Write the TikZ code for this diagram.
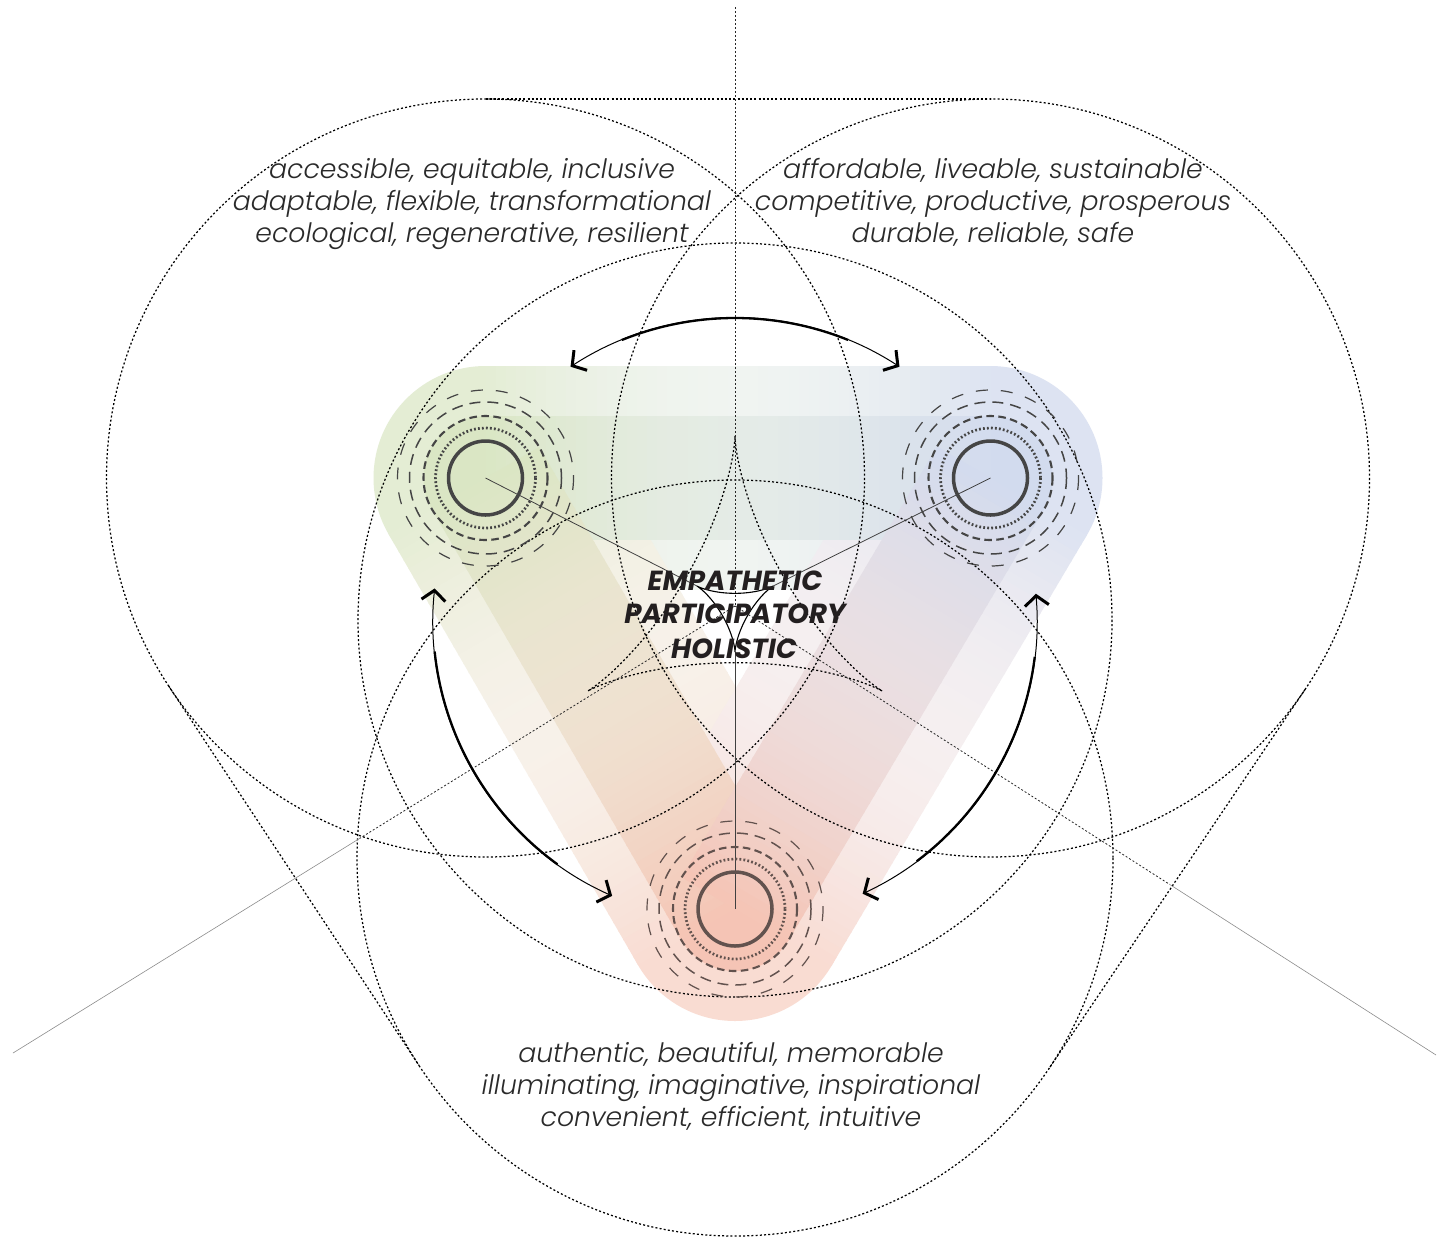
\documentclass[tikz,border=0pt]{standalone}
\usepackage{fontspec}
\setmainfont{Poppins}
\newfontfamily\lightfont{Poppins}[UprightFont=* Light, ItalicFont=* Light Italic, BoldFont=* Bold, BoldItalicFont=* Bold Italic]
\usetikzlibrary{calc,arrows.meta}
\definecolor{gA}{HTML}{D5E3BC}
\definecolor{bA}{HTML}{CCD6EC}
\definecolor{rA}{HTML}{F4BFAE}
\definecolor{ink}{HTML}{2A2A2A}
\definecolor{inkb}{HTML}{231F20}
\definecolor{ringc}{HTML}{454545}
\definecolor{ringb}{HTML}{62524E}
\newcommand\bandslices[8]{%
  \coordinate (bAp) at ($(#1)!#7!90:(#2)$);
  \coordinate (bAm) at ($(#1)!#7!-90:(#2)$);
  \coordinate (bBp) at ($(#2)!#7!-90:(#1)$);
  \coordinate (bBm) at ($(#2)!#7!90:(#1)$);
  \foreach \i in {0,...,49}{%
    \pgfmathsetmacro\fa{\i/50}%
    \pgfmathsetmacro\fb{min(1,(\i+1.15)/50)}%
    \pgfmathsetmacro\fm{(\i+0.5)/50}%
    \pgfmathsetmacro\mixp{100*(1-\fm)}%
    \pgfmathsetmacro\tint{100*((1-\fm)*#5+\fm*#6)*(1-#8*sin(180*\fm))}%
    \colorlet{tmpc}{#3!\mixp!#4}%
    \fill[tmpc!\tint!white] ($(bAp)!\fa!(bBp)$) -- ($(bAp)!\fb!(bBp)$) -- ($(bAm)!\fb!(bBm)$) -- ($(bAm)!\fa!(bBm)$) -- cycle;
  }%
}
\begin{document}
\begin{tikzpicture}[x=0.5pt,y=-0.5pt,
  dotc/.style={draw=black, line width=0.62pt, dash pattern=on 1pt off 1.1pt},
  vline/.style={draw=black!85, line width=0.4pt, dash pattern=on 1pt off 1pt},
  fadel/.style={draw=black!45, line width=0.3pt},
  thinl/.style={draw=black!75, line width=0.4pt},
  ringA/.style={draw=#1, line width=0.6pt, dash pattern=on 6pt off 6.5pt},
  ringB/.style={draw=#1, line width=0.75pt, dash pattern=on 5.5pt off 3.5pt},
  ringC/.style={draw=#1, line width=1.05pt, dash pattern=on 3.8pt off 2.2pt},
  ringD/.style={draw=#1, line width=1.35pt, dash pattern=on 0.9pt off 1.1pt},
  ringE/.style={draw=#1, line width=1.75pt},
  arrthin/.style={draw=black, line width=0.5pt, {Straight Barb[length=5pt,width=12pt,line width=1.5pt]}-{Straight Barb[length=5pt,width=12pt,line width=1.5pt]}},
  arrthick/.style={draw=black, line width=1.15pt},
  lt/.style={font=\lightfont\itshape\fontsize{13.35}{16}\selectfont, text=ink, anchor=base, inner sep=0pt},
  bt/.style={font=\lightfont\bfseries\itshape\fontsize{13.8}{16}\selectfont, text=inkb, anchor=base, inner sep=0pt}]
\useasboundingbox (0,0) rectangle (1438,1237);
\fill[white] (0,0) rectangle (1438,1237);
\coordinate (L) at (485.5,478);
\coordinate (R) at (990.5,478);
\coordinate (B) at (735,909);
\coordinate (C) at (735,620);
\coordinate (D) at (735,606);
\coordinate (BC) at (735,858);
% outer bands
\fill[gA!64!white] (L) circle[radius=112];
\fill[bA!67!white] (R) circle[radius=112];
\fill[rA!55!white] (B) circle[radius=112];
\bandslices{L}{R}{gA}{bA}{0.64}{0.67}{56pt}{0.5}
\bandslices{L}{B}{gA}{rA}{0.64}{0.55}{56pt}{0.5}
\bandslices{R}{B}{bA}{rA}{0.67}{0.55}{56pt}{0.5}
% inner bands
\fill[gA!88!white] (L) circle[radius=62];
\fill[bA!88!white] (R) circle[radius=62];
\fill[rA!92!white] (B) circle[radius=62];
\bandslices{L}{R}{gA}{bA}{0.88}{0.88}{31pt}{0.35}
\bandslices{L}{B}{gA}{rA}{0.88}{0.92}{31pt}{0.3}
\bandslices{R}{B}{bA}{rA}{0.88}{0.92}{31pt}{0.3}
% big dotted circles
\draw[dotc] (L) circle[radius=379];
\draw[dotc] (R) circle[radius=379];
\draw[dotc] (BC) circle[radius=378];
\draw[dotc] (C) circle[radius=377];
% tangent lines
\coordinate (T1) at (485.5,99);
\coordinate (T2) at (990.5,99);
\coordinate (T3) at (168.7,686);
\coordinate (T4) at (419,1065.4);
\coordinate (T5) at (1305,689.5);
\coordinate (T6) at (1048.7,1068.9);
\draw[dotc] (T1) -- (T2);
\draw[dotc] (T3) -- (T4);
\draw[dotc] (T5) -- (T6);
% big dotted deltoid
\draw[dotc] plot[variable=\t, domain=0:360, samples=240] ({735+56.67*(2*sin(\t)-sin(2*\t))}, {606-56.67*(2*cos(\t)+cos(2*\t))});
% small solid deltoid
\draw[draw=black, line width=0.55pt] plot[variable=\t, domain=0:360, samples=200] ({735-14.67*(2*sin(\t)-sin(2*\t))}, {608+14.67*(2*cos(\t)+cos(2*\t))});
\coordinate (cl) at (696.9,586);
\coordinate (cr) at (773.1,586);
\coordinate (cb) at (735,652);
% vertical and diagonal lines
\coordinate (TOP) at (735,7);
\coordinate (SW) at (13,1053);
\coordinate (SE) at (1436,1055);
\draw[vline] (TOP) -- (D);
\draw[vline] (D) -- ($(D)!0.52!(SW)$) coordinate (sw1);
\draw[fadel] (sw1) -- (SW);
\draw[vline] (D) -- ($(D)!0.62!(SE)$) coordinate (se1);
\draw[fadel] (se1) -- (SE);
% node spokes
\draw[thinl] (L) -- (cl);
\draw[thinl] (R) -- (cr);
\draw[thinl] (B) -- (cb);
% rings
\foreach \n/\c in {L/ringc,R/ringc,B/ringb}{
  \draw[ringA=\c] (\n) circle[radius=88];
  \draw[ringB=\c] (\n) circle[radius=76];
  \draw[ringC=\c] (\n) circle[radius=62];
  \draw[ringD=\c] (\n) circle[radius=50];
  \draw[ringE=\c] (\n) circle[radius=37];
}
% arrows
\draw[arrthin] ($(C)+(237:302)$) arc[start angle=237,end angle=303,radius=302];
\draw[arrthick] ($(C)+(248:302)$) arc[start angle=248,end angle=292,radius=302];
\draw[arrthin] ($(C)+(114:302)$) arc[start angle=114,end angle=186,radius=302];
\draw[arrthick] ($(C)+(126:302)$) arc[start angle=126,end angle=174,radius=302];
\draw[arrthin] ($(C)+(-5:302)$) arc[start angle=-5,end angle=65,radius=302];
\draw[arrthick] ($(C)+(7:302)$) arc[start angle=7,end angle=53,radius=302];
% texts
\node[lt] (a1) at (472,178) {accessible, equitable, inclusive};
\node[lt] (a2) at (472,210) {adaptable, flexible, transformational};
\node[lt] (a3) at (472,242) {ecological, regenerative, resilient};
\node[lt] (b1) at (993,178) {affordable, liveable, sustainable};
\node[lt] (b2) at (993,210) {competitive, productive, prosperous};
\node[lt] (b3) at (993,242) {durable, reliable, safe};
\node[lt] (c1) at (731,1062) {authentic, beautiful, memorable};
\node[lt] (c2) at (731,1094) {illuminating, imaginative, inspirational};
\node[lt] (c3) at (731,1126) {convenient, efficient, intuitive};
\node[bt] (m1) at (735,590) {EMPATHETIC};
\node[bt] (m2) at (735,623) {PARTICIPATORY};
\node[bt] (m3) at (734,658) {HOLISTIC};
\end{tikzpicture}
\end{document}
